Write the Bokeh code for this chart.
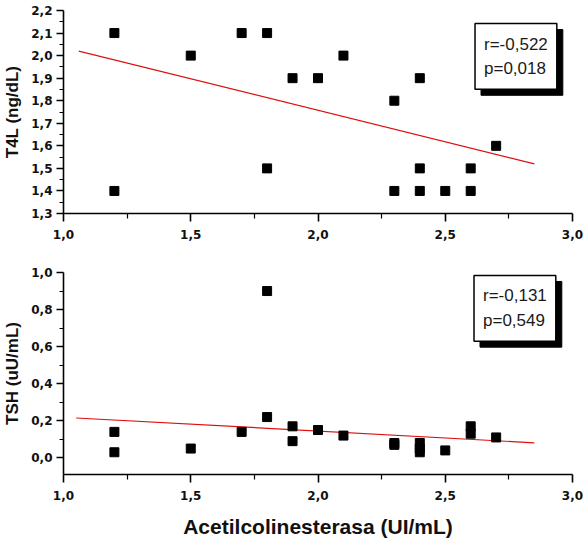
from bokeh.plotting import figure
from bokeh.layouts import column
from bokeh.models import FixedTicker, Label, Range1d, CustomJSTickFormatter
from bokeh.embed import file_html
from bokeh.resources import INLINE

# ---- data ----
ache_t4l = [1.2, 1.2, 1.5, 1.7, 1.8, 1.8, 1.9, 2.0, 2.1, 2.3, 2.3, 2.4, 2.4, 2.4, 2.5, 2.6, 2.6, 2.7]
t4l = [2.1, 1.4, 2.0, 2.1, 2.1, 1.5, 1.9, 1.9, 2.0, 1.8, 1.4, 1.9, 1.5, 1.4, 1.4, 1.5, 1.4, 1.6]
fit_t4l_x = [1.06, 2.85]
fit_t4l_y = [2.02, 1.52]

ache_tsh = [1.2, 1.2, 1.5, 1.7, 1.8, 1.8, 1.9, 1.9, 2.0, 2.1, 2.3, 2.3, 2.4, 2.4, 2.4, 2.5, 2.6, 2.6, 2.7]
tsh = [0.14, 0.03, 0.05, 0.14, 0.90, 0.22, 0.17, 0.09, 0.15, 0.12, 0.08, 0.07, 0.08, 0.05, 0.03, 0.04, 0.17, 0.13, 0.11]
fit_tsh_x = [1.05, 2.85]
fit_tsh_y = [0.215, 0.081]

x_ticks = [1.0, 1.5, 2.0, 2.5, 3.0]
x_minor = [1.25, 1.75, 2.25, 2.75]
t4l_ticks = [1.3, 1.4, 1.5, 1.6, 1.7, 1.8, 1.9, 2.0, 2.1, 2.2]
t4l_minor = [1.35, 1.45, 1.55, 1.65, 1.75, 1.85, 1.95, 2.05, 2.15]
tsh_ticks = [0.0, 0.2, 0.4, 0.6, 0.8, 1.0]
tsh_minor = [-0.1, 0.1, 0.3, 0.5, 0.7, 0.9]

stats_t4l = "r=-0,522\np=0,018"
stats_tsh = "r=-0,131\np=0,549"

FONT = "Liberation Sans"
TICK_FONT = "DejaVu Sans"
fmt = CustomJSTickFormatter(code="return tick.toFixed(1).replace('.', ',');")


def style(p, xt, xm, yt, ym):
    for ax in (p.xaxis[0], p.yaxis[0]):
        ax.formatter = fmt
        ax.axis_line_width = 1.6
        ax.axis_line_color = "black"
        ax.major_tick_line_width = 1.6
        ax.minor_tick_line_width = 1.2
        ax.major_tick_in = 0
        ax.minor_tick_in = 0
        ax.major_label_text_font = TICK_FONT
        ax.major_label_text_font_style = "bold"
        ax.major_label_text_font_size = "12px"
        ax.major_label_text_color = "#111111"
        ax.axis_label_text_font = FONT
        ax.axis_label_text_font_style = "bold"
        ax.axis_label_text_color = "#111111"
    p.xaxis[0].ticker = FixedTicker(ticks=xt, minor_ticks=xm)
    p.yaxis[0].ticker = FixedTicker(ticks=yt, minor_ticks=ym)
    p.xaxis.major_tick_out = 8
    p.xaxis.minor_tick_out = 5
    p.xaxis.major_label_standoff = 8
    p.yaxis.major_tick_out = 7
    p.yaxis.minor_tick_out = 4
    p.yaxis.major_label_standoff = 4
    p.yaxis.axis_label_text_font_size = "17px"
    p.yaxis.axis_label_standoff = 6
    p.xgrid.visible = False
    p.ygrid.visible = False
    p.outline_line_color = None
    p.background_fill_color = "white"
    p.border_fill_color = "white"


def stats_box(p, x, y, txt):
    common = dict(x=x, y=y, text=txt, anchor="top_left", padding=(9, 11),
                  text_font=FONT, text_font_size="17px", text_line_height=1.3)
    shadow = Label(x_offset=6, y_offset=-6, text_color="black",
                   background_fill_color="black", border_line_color="black", **common)
    box = Label(text_color="#1a1a1a", background_fill_color="white",
                border_line_color="black", border_line_width=1.5, **common)
    p.add_layout(shadow)
    p.add_layout(box)


p1 = figure(width=584, height=250, output_backend="svg", toolbar_location=None,
            x_range=Range1d(1.0, 3.0), y_range=Range1d(1.3, 2.2),
            min_border_left=60, min_border_right=12, min_border_top=10, min_border_bottom=37)
style(p1, x_ticks, x_minor, t4l_ticks, t4l_minor)
p1.yaxis.axis_label = "T4L (ng/dL)"
p1.line(fit_t4l_x, fit_t4l_y, line_color="#dd1010", line_width=1.2)
p1.scatter(ache_t4l, t4l, marker="square", size=9, color="black")
stats_box(p1, 2.617, 2.142, stats_t4l)

p2 = figure(width=584, height=298, output_backend="svg", toolbar_location=None,
            x_range=Range1d(1.0, 3.0), y_range=Range1d(-0.09, 1.0),
            min_border_left=60, min_border_right=12, min_border_top=22, min_border_bottom=74)
style(p2, x_ticks, x_minor, tsh_ticks, tsh_minor)
p2.yaxis.axis_label = "TSH (uU/mL)"
p2.xaxis.axis_label = "Acetilcolinesterasa (UI/mL)"
p2.xaxis.axis_label_text_font_size = "21px"
p2.xaxis.axis_label_standoff = 12
p2.line(fit_tsh_x, fit_tsh_y, line_color="#dd1010", line_width=1.2)
p2.scatter(ache_tsh, tsh, marker="square", size=9, color="black")
stats_box(p2, 2.613, 0.984, stats_tsh)

layout = column(p1, p2)
open("out.html", "w").write(file_html(layout, INLINE))
